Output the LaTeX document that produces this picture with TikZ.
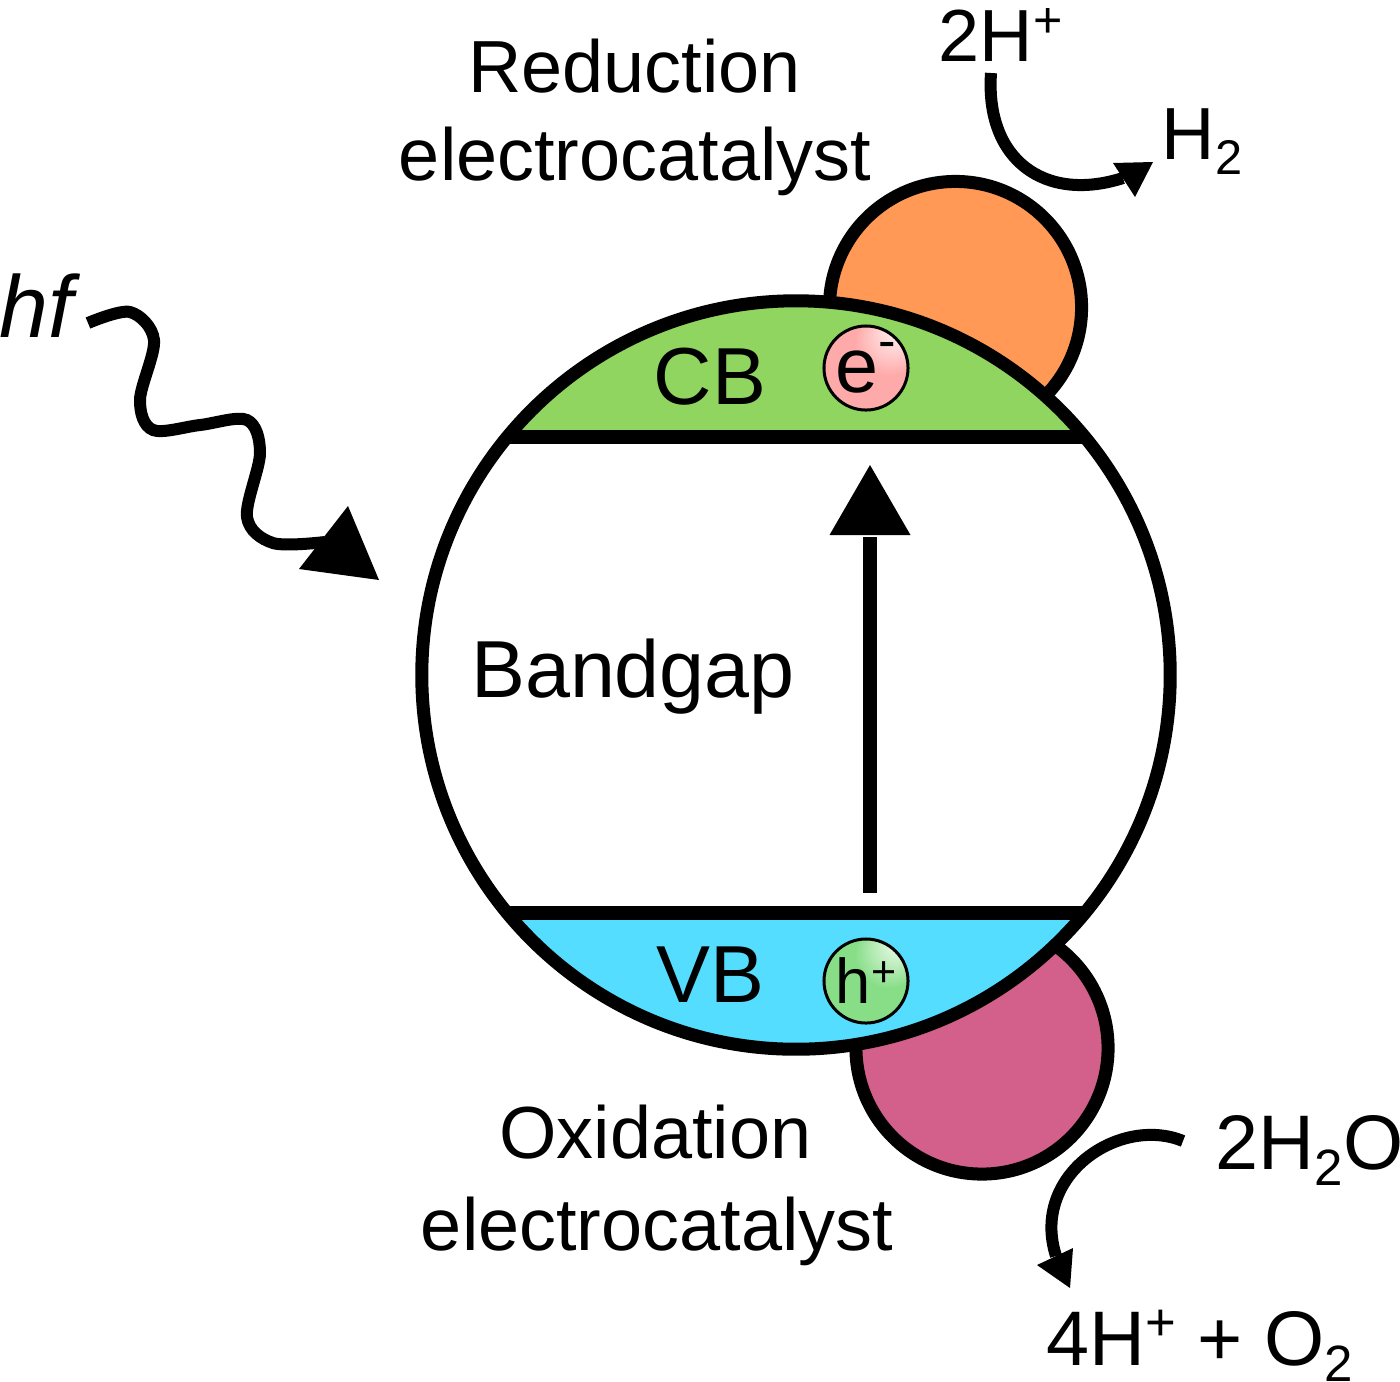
\documentclass[tikz,border=0pt]{standalone}
\usepackage{fontspec}
\setmainfont{Liberation Sans}
\usepackage{graphicx}
\usetikzlibrary{arrows.meta,calc}
\definecolor{cbgreen}{HTML}{8FD55F}
\definecolor{vbcyan}{HTML}{55DDFF}
\definecolor{redcat}{HTML}{FF9955}
\definecolor{oxcat}{HTML}{D35F8B}
\definecolor{epink}{HTML}{FFAAAA}
\definecolor{hgreen}{HTML}{87DE87}
\newcommand\upidx[2][0.32em]{\raisebox{#1}{\scalebox{0.68}{#2}}}
\newcommand\dnidx[1]{\raisebox{-0.21em}{\scalebox{0.66}{#1}}}
\pgfdeclareradialshading{eglint}{\pgfpoint{22bp}{26bp}}{color(0bp)=(white); color(20bp)=(epink); color(50bp)=(epink)}
\pgfdeclareradialshading{hglint}{\pgfpoint{22bp}{26bp}}{color(0bp)=(white); color(20bp)=(hgreen); color(50bp)=(hgreen)}
\tikzset{
  rim/.style={line width=1.3mm},
  bandline/.style={line width=1.4mm},
  wire/.style={line width=1.2mm},
  headfill/.style={fill=black},
  lab/.style={inner sep=0pt,font=\fontsize{21}{25}\selectfont},
  big/.style={font=\fontsize{23}{27}\selectfont},
  carrier/.style={circle,draw,line width=0.3mm,minimum size=8.4mm,inner sep=0pt},
}

\begin{document}
\begin{tikzpicture}[x=0.01cm,y=-0.01cm]
  \useasboundingbox (0,0) rectangle (1400,1381);
  % catalysts behind the particle
  \draw[rim,fill=redcat] (955.5,307.5) circle[radius=1.26cm];
  \draw[rim,fill=oxcat] (982,1048) circle[radius=1.26cm];
  % semiconductor particle with the two bands
  \fill[white] (796,675) circle[radius=3.74cm];
  \begin{scope}
    \clip (796,675) circle[radius=3.74cm];
    \fill[cbgreen] (400,280) rectangle (1200,437);
    \fill[vbcyan] (400,913) rectangle (1200,1070);
    \draw[bandline] (400,437) -- (1200,437);
    \draw[bandline] (400,913) -- (1200,913);
  \end{scope}
  \draw[rim] (796,675) circle[radius=3.74cm];

  \node[lab,anchor=base] (red1) at (634.5,92) {Reduction};
  \node[lab,anchor=base] (red2) at (635,180) {electrocatalyst};
  \node[lab,anchor=base] (ox1) at (655.5,1158) {Oxidation};
  \node[lab,anchor=base] (ox2) at (657,1250) {electrocatalyst};
  \node[lab,big,anchor=base] (gap) at (633,697) {Bandgap};
  \node[lab,big,anchor=base] (cb) at (710,404) {CB};
  \node[lab,big,anchor=base] (vb) at (710,1002) {VB};
  \node[carrier,shade,shading=eglint,font=\fontsize{22}{26}\selectfont] (el) at (866,368) {e\upidx[0.44em]{-}};
  \node[carrier,shade,shading=hglint,font=\fontsize{18}{22}\selectfont] (ho) at (866,981) {h\upidx[0.27em]{+}};

  \node[lab,anchor=base west] (hp) at (938,61) {2H\upidx{+}};
  \node[lab,anchor=base west] (hyd) at (1161,159) {H\dnidx{2}};
  \node[lab,anchor=base west,font=\fontsize{22}{26}\selectfont] (wat) at (1215,1169) {2H\dnidx{2}O};
  \node[lab,anchor=base west,font=\fontsize{22}{26}\selectfont] (oxy) at (1046,1365) {4H\upidx{+} + O\dnidx{2}};
  \node[lab,anchor=base west,font=\fontsize{25}{30}\selectfont\itshape] (hf) at (-1,337) {hf};

  % photon
  \coordinate (ph0) at (88,323);
  \coordinate (ph1) at (325,542);
  \draw[wire] plot[smooth,tension=0.55] coordinates {(ph0) (130,312) (154,340) (140,400)
    (153,430) (200,425) (247,420) (260,453) (247,517) (273,543) (ph1)};
  \fill[headfill] (299,569) -- (379,580) -- (348,506) -- cycle;

  % excitation across the gap
  \coordinate (gapbot) at (870,893);
  \coordinate (gaptip) at (870,465);
  \draw[wire,line width=1.4mm] (gapbot) -- ($(gaptip)+(0,72)$);
  \fill[headfill] (gaptip) -- ++(-40.5,70) -- ++(81,0) -- cycle;

  % reactions
  \coordinate (r0) at (991,73);
  \coordinate (r1) at (1123,178);
  \draw[wire] (r0) .. controls (985,160) and (1045,203) .. (r1);
  \fill[headfill] (1113,163) -- (1153,162) -- (1135,197) -- cycle;
  \coordinate (o0) at (1183,1141);
  \coordinate (o1) at (1056,1256);
  \draw[wire] (o0) .. controls (1120,1115) and (1030,1175) .. (o1);
  \fill[headfill] (1037,1265) -- (1070,1288) -- (1073,1248) -- cycle;
\end{tikzpicture}
\end{document}
